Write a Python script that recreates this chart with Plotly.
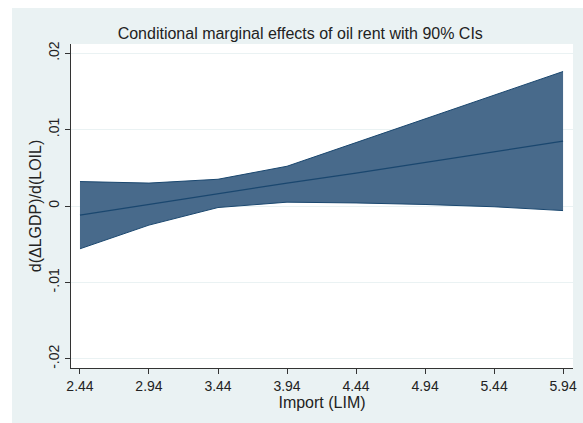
import plotly.graph_objects as go

# values
lim = [2.44, 2.94, 3.44, 3.94, 4.44, 4.94, 5.44, 5.94]
me = [-0.0012, 0.0002, 0.0016, 0.0030, 0.0043, 0.0057, 0.0071, 0.0085]
upper = [0.0032, 0.0030, 0.0035, 0.0052, 0.0083, 0.0114, 0.0145, 0.0176]
lower = [-0.0056, -0.0025, -0.0002, 0.0005, 0.0004, 0.0002, -0.0001, -0.0006]

ytickvals = [-0.02, -0.01, 0, 0.01, 0.02]
yticktext = ["-.02", "-.01", "0", ".01", ".02"]

navy = "#1a476f"
fill = "#486a8b"
bg = "#eaf2f3"
font = "Liberation Sans, Arial, sans-serif"

fig = go.Figure()
fig.add_trace(go.Scatter(x=lim, y=lower, mode="lines",
                         line=dict(color=navy, width=1), showlegend=False))
fig.add_trace(go.Scatter(x=lim, y=upper, mode="lines", fill="tonexty",
                         fillcolor=fill, line=dict(color=navy, width=1),
                         showlegend=False))
fig.add_trace(go.Scatter(x=lim, y=me, mode="lines",
                         line=dict(color=navy, width=1.2), showlegend=False))

fig.update_layout(
    width=583, height=423,
    margin=dict(l=71, r=10, t=44, b=55),
    paper_bgcolor=bg, plot_bgcolor="white",
    font=dict(family=font, color="#222222"),
    title=dict(text="Conditional marginal effects of oil rent with 90% CIs",
               font=dict(size=16, color="#222222"),
               x=0.515, xref="container", xanchor="center",
               y=0.922, yref="container", yanchor="middle"),
    xaxis=dict(range=[2.375, 6.012], tickvals=lim,
               ticktext=[f"{v:.2f}" for v in lim],
               showgrid=False, zeroline=False, showline=True,
               linecolor="#333333", linewidth=1,
               ticks="outside", ticklen=5, tickcolor="#333333",
               tickfont=dict(size=14), automargin=False,
               title=dict(text="Import (LIM)", font=dict(size=16), standoff=0)),
    yaxis=dict(range=[-0.0212, 0.0212], tickvals=ytickvals, ticktext=yticktext,
               tickangle=-90, showgrid=True, gridcolor=bg, gridwidth=1,
               zeroline=False, showline=True,
               linecolor="#333333", linewidth=1,
               ticks="outside", ticklen=5, tickcolor="#333333",
               tickfont=dict(size=14), automargin=False,
               title=dict(text="d(\u0394LGDP)/d(LOIL)", font=dict(size=16),
                          standoff=0)),
    shapes=[
        dict(type="rect", xref="paper", yref="paper", x0=-0.2, x1=-0.1175,
             y0=-0.3, y1=1.3, fillcolor="white", line=dict(width=0),
             layer="below"),
        dict(type="rect", xref="paper", yref="paper", x0=-0.2, x1=1.1,
             y0=1.1111, y1=1.3, fillcolor="white", line=dict(width=0),
             layer="below"),
    ],
)

# page body has a default 8px margin; drop it so the figure fills the window
fig.write_html("out.html", config={"displayModeBar": False},
               post_script="document.body.style.margin = '0';")
